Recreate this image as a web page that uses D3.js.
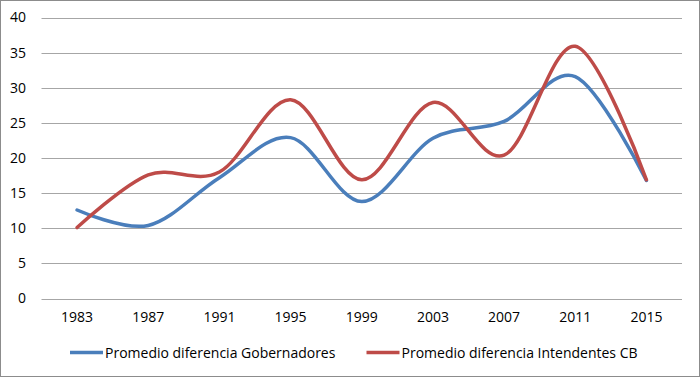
<!DOCTYPE html>
<html>
<head>
<meta charset="utf-8">
<script src="https://cdn.jsdelivr.net/npm/d3@7"></script>
<style>
  body { margin: 0; background: #fff; }
  text { font-family: "Open Sans", "Noto Sans", sans-serif; fill: #000; }
</style>
</head>
<body>
<svg id="chart"></svg>
<script>
var years = ['1983', '1987', '1991', '1995', '1999', '2003', '2007', '2011', '2015'];
var gobernadores = [12.6, 10.4, 17.2, 22.9, 13.8, 22.8, 25.2, 31.6, 16.8];
var intendentes = [10.1, 17.6, 18.0, 28.3, 16.9, 27.9, 20.4, 35.9, 16.9];
var yTicks = [0, 5, 10, 15, 20, 25, 30, 35, 40];
var seriesNames = ['Promedio diferencia Gobernadores', 'Promedio diferencia Intendentes CB'];

var chartVars = {
    width: 700,
    height: 377,
    left: 41.5,
    right: 682,
    top: 17.5,
    bottom: 298.5,
    fontSize: '14px',
    blue: '#4a7ebb',
    red: '#be4b48',
    grid: '#a6a6a6'
};

var svg = d3.select('#chart')
    .attr('width', chartVars.width)
    .attr('height', chartVars.height);

// outer border
svg.append('rect')
    .attr('x', 0.5)
    .attr('y', 0.5)
    .attr('width', chartVars.width - 1)
    .attr('height', chartVars.height - 1)
    .attr('fill', '#fff')
    .attr('stroke', '#8c8c8c');

var x = d3.scaleBand()
    .domain(years)
    .range([chartVars.left, chartVars.right]);

var y = d3.scaleLinear()
    .domain([0, 40])
    .range([chartVars.bottom, chartVars.top]);

// horizontal gridlines
svg.append('g')
    .attr('class', 'grid')
    .selectAll('line')
    .data(yTicks)
    .enter()
    .append('line')
    .attr('x1', chartVars.left)
    .attr('x2', chartVars.right)
    .attr('y1', function(d) {return Math.round(y(d)) + 0.5;})
    .attr('y2', function(d) {return Math.round(y(d)) + 0.5;})
    .attr('stroke', chartVars.grid)
    .attr('stroke-width', 1);

// y axis labels
var yAxis = d3.axisLeft(y).tickValues(yTicks).tickSize(0).tickPadding(0);
svg.append('g')
    .attr('transform', 'translate(26,0)')
    .call(yAxis)
    .call(function(g) {g.select('.domain').remove();})
    .selectAll('text')
    .attr('font-size', chartVars.fontSize)
    .attr('font-family', '"Open Sans", "Noto Sans", sans-serif')
    .attr('fill', '#000');

// x axis labels
var xAxis = d3.axisBottom(x).tickSize(0).tickPadding(0);
svg.append('g')
    .attr('transform', 'translate(0,' + 312 + ')')
    .call(xAxis)
    .call(function(g) {g.select('.domain').remove();})
    .selectAll('text')
    .attr('font-size', chartVars.fontSize)
    .attr('font-family', '"Open Sans", "Noto Sans", sans-serif')
    .attr('fill', '#000');

var line = d3.line()
    .x(function(d, i) {return x(years[i]) + x.bandwidth() / 2;})
    .y(function(d) {return y(d);})
    .curve(d3.curveCardinal);

svg.append('path')
    .datum(gobernadores)
    .attr('d', line)
    .attr('fill', 'none')
    .attr('stroke', chartVars.blue)
    .attr('stroke-width', 3.5)
    .attr('stroke-linecap', 'round');

svg.append('path')
    .datum(intendentes)
    .attr('d', line)
    .attr('fill', 'none')
    .attr('stroke', chartVars.red)
    .attr('stroke-width', 3.5)
    .attr('stroke-linecap', 'round');

// legend
var legend = [
    {name: seriesNames[0], color: chartVars.blue, x: 70},
    {name: seriesNames[1], color: chartVars.red, x: 366.5}
];
var lg = svg.append('g').attr('class', 'legend');
legend.forEach(function(d) {
    lg.append('line')
        .attr('x1', d.x)
        .attr('x2', d.x + 33)
        .attr('y1', 352.5)
        .attr('y2', 352.5)
        .attr('stroke', d.color)
        .attr('stroke-width', 3.5);
    lg.append('text')
        .attr('x', d.x + 35)
        .attr('y', 357.5)
        .attr('font-size', chartVars.fontSize)
        .text(d.name);
});
</script>
</body>
</html>
